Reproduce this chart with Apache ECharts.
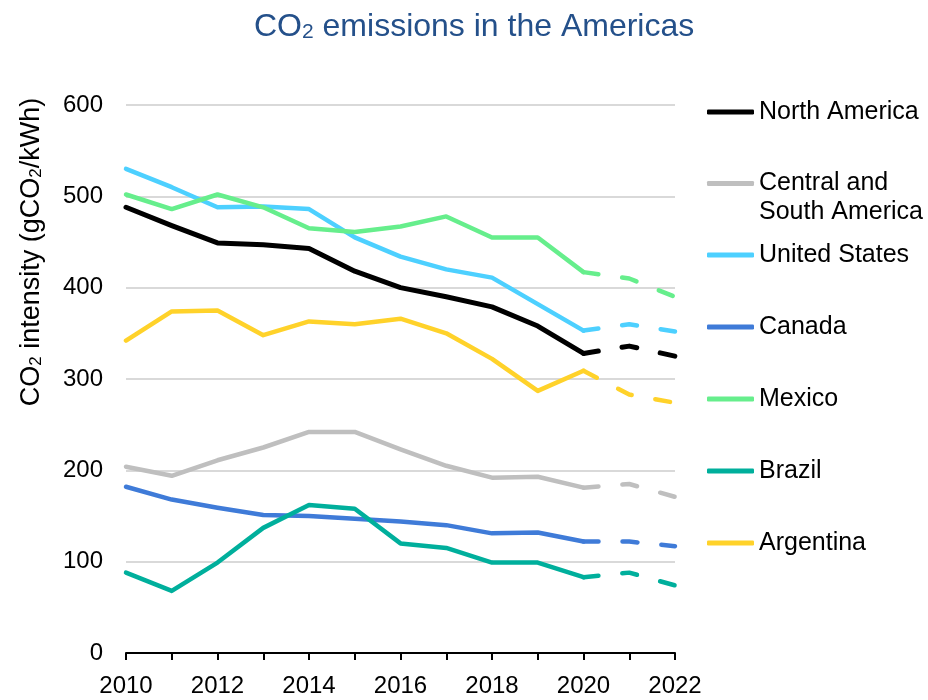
<!DOCTYPE html>
<html>
<head>
<meta charset="utf-8">
<script src="https://cdn.jsdelivr.net/npm/echarts@6/dist/echarts.min.js"></script>
<style>
html,body{margin:0;padding:0;background:#fff;}
#chart{width:928px;height:700px;}
</style>
</head>
<body>
<div id="chart"></div>
<script>
const years = ['2010','2011','2012','2013','2014','2015','2016','2017','2018','2019','2020','2021','2022'];
const yTicks = [0, 100, 200, 300, 400, 500, 600];
const northAmerica = [488, 468, 449, 447, 443, 418, 400, 390, 379, 358, 328, 336, 325];
const centralSouthAmerica = [204, 194, 211, 225, 242, 242, 223, 205, 192, 193, 181, 185, 171];
const unitedStates = [530, 510, 488, 489, 486, 455, 434, 420, 411, 382, 353, 360, 352];
const canada = [182, 168, 159, 151, 150, 147, 144, 140, 131, 132, 122, 122, 117];
const mexico = [502, 486, 502, 488, 465, 461, 467, 478, 455, 455, 417, 410, 390];
const brazil = [88, 68, 99, 137, 162, 158, 120, 115, 99, 99, 83, 88, 74];
const argentina = [342, 374, 375, 348, 363, 360, 366, 350, 322, 287, 309, 283, 274];

const regions = [
  {name: 'North America', data: northAmerica, color: '#000000', width: 5, legendY: 112},
  {name: 'Central and South America', label: '\nCentral and\nSouth America', data: centralSouthAmerica, color: '#BFBFBF', width: 4.5, legendY: 183.5},
  {name: 'United States', data: unitedStates, color: '#4DD0FF', width: 4.5, legendY: 255},
  {name: 'Canada', data: canada, color: '#3F7BD8', width: 4.5, legendY: 327},
  {name: 'Mexico', data: mexico, color: '#66EE8C', width: 4.5, legendY: 399},
  {name: 'Brazil', data: brazil, color: '#00AF9C', width: 4.5, legendY: 471},
  {name: 'Argentina', data: argentina, color: '#FFD22A', width: 4.5, legendY: 543}
];
const lastActual = 10; // index of 2020

const FONT = '"Liberation Sans", Arial, sans-serif';

const series = [];
regions.forEach(r => {
  series.push({
    name: r.name, type: 'line', symbol: 'none', showSymbol: false,
    data: r.data.map((v, i) => i <= lastActual ? v : null),
    lineStyle: {color: r.color, width: r.width, cap: 'round', join: 'round'},
    itemStyle: {color: r.color},
    emphasis: {disabled: true}, silent: true, z: 3
  });
  series.push({
    name: r.name, type: 'line', symbol: 'none', showSymbol: false,
    data: r.data.map((v, i) => i >= lastActual ? v : null),
    lineStyle: {color: r.color, width: r.width, type: [15, 24], cap: 'round', join: 'round'},
    itemStyle: {color: r.color},
    emphasis: {disabled: true}, silent: true, z: 3
  });
});

const legends = regions.map(r => {
  const twoLine = !!r.label;
  const lh = 29;
  const half = twoLine ? (3 * lh) / 2 : lh / 2;
  return {
    data: [r.name],
    orient: 'vertical',
    left: 707,
    top: r.legendY - half,
    padding: 0,
    itemWidth: 47,
    itemHeight: 5,
    icon: 'roundRect',
    selectedMode: false,
    formatter: twoLine ? () => r.label : '{name}',
    textStyle: {fontFamily: FONT, fontSize: 25, color: '#000', lineHeight: lh}
  };
});

const chart = echarts.init(document.getElementById('chart'), null, {renderer: 'canvas'});
chart.setOption({
  animation: false,
  backgroundColor: '#ffffff',
  title: {
    text: '{n|CO}{s|2}{n| emissions in the Americas}',
    left: 249, top: 2,
    textStyle: {
      fontWeight: 'normal',
      rich: {
        n: {fontFamily: FONT, fontSize: 32, fontWeight: 'normal', color: '#24508A', lineHeight: 36, verticalAlign: 'bottom'},
        s: {fontFamily: FONT, fontSize: 21, fontWeight: 'normal', color: '#24508A', lineHeight: 36, verticalAlign: 'bottom'}
      }
    }
  },
  legend: legends,
  grid: {left: 126, right: 253, top: 105, bottom: 47, containLabel: false},
  xAxis: {
    type: 'category', data: years, boundaryGap: false,
    axisLine: {show: true, lineStyle: {color: '#000', width: 2}},
    axisTick: {show: true, interval: 0, length: 7, lineStyle: {color: '#000', width: 2}},
    axisLabel: {interval: 1, fontFamily: FONT, fontSize: 24, color: '#000', margin: 21},
    splitLine: {show: false}
  },
  yAxis: {
    type: 'value', min: yTicks[0], max: yTicks[yTicks.length - 1], interval: 100,
    axisLine: {show: false}, axisTick: {show: false},
    axisLabel: {fontFamily: FONT, fontSize: 24, color: '#000', margin: 23},
    splitLine: {show: true, lineStyle: {color: '#D9D9D9', width: 2}}
  },
  graphic: [{
    type: 'text',
    x: 30, y: 252,
    rotation: Math.PI / 2,
    style: {
      text: '{n|CO}{s|2}{n| intensity (gCO}{s|2}{n|/kWh)}',
      align: 'center', verticalAlign: 'middle',
      rich: {
        n: {fontFamily: FONT, fontSize: 27, fill: '#000', lineHeight: 30, verticalAlign: 'bottom'},
        s: {fontFamily: FONT, fontSize: 17, fill: '#000', lineHeight: 30, verticalAlign: 'bottom'}
      }
    }
  }],
  series: series
});
</script>
</body>
</html>
